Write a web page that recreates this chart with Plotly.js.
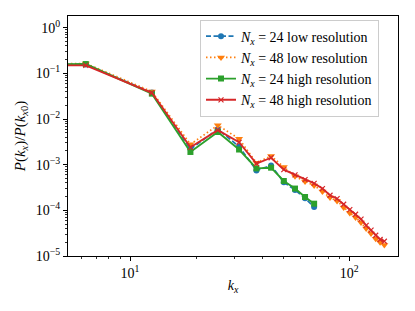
<!DOCTYPE html>
<html>
<head>
<meta charset="utf-8">
<script src="https://cdn.plot.ly/plotly-3.0.1.min.js"></script>
<style>
html,body{margin:0;padding:0;background:#fff;}
#chart{width:415px;height:311px;}
</style>
</head>
<body>
<div id="chart"></div>
<script>
// k_x values (first entry stands for the clipped k=0 mode, outside the visible range)
const k24 = [1, 6.28, 12.57, 18.85, 25.13, 31.42, 37.70, 43.98, 50.27, 56.55, 62.83, 69.12];
const k48 = [1, 6.28, 12.57, 18.85, 25.13, 31.42, 37.70, 43.98, 50.27, 56.55, 62.83, 69.12,
             75.40, 81.68, 87.96, 94.25, 100.53, 106.81, 113.10, 119.38, 125.66, 131.95, 138.23, 144.51];

const p24Low  = [0.155, 0.157, 0.038, 0.0022, 0.0060, 0.0025, 0.00075, 0.00096, 0.00041, 0.00028, 0.000185, 0.000118];
const p48Low  = [0.16, 0.165, 0.040, 0.0028, 0.0073, 0.0037, 0.0011, 0.00155, 0.00089, 0.00056, 0.00043, 0.00035,
                 0.00026, 0.00019, 0.00016, 0.000115, 0.000088, 0.000070, 0.000054, 0.000040, 0.000031, 0.000024, 0.000020, 0.0000175];
const p24High = [0.158, 0.160, 0.036, 0.0019, 0.0052, 0.00215, 0.00083, 0.00086, 0.00044, 0.00030, 0.000196, 0.00014];
const p48High = [0.148, 0.150, 0.0376, 0.0024, 0.0057, 0.0031, 0.00106, 0.00142, 0.00078, 0.00060, 0.00047, 0.00039,
                 0.00030, 0.000214, 0.00018, 0.000136, 0.000104, 0.000082, 0.000064, 0.000047, 0.000037, 0.0000285, 0.000023, 0.000021];

const names = [
  '<i>N</i><sub><i>x</i></sub> = 24 low resolution',
  '<i>N</i><sub><i>x</i></sub> = 48 low resolution',
  '<i>N</i><sub><i>x</i></sub> = 24 high resolution',
  '<i>N</i><sub><i>x</i></sub> = 48 high resolution'
];

const yTickVals = [1e-5, 1e-4, 1e-3, 1e-2, 1e-1, 1];
const yTickText = ['10<sup>−5</sup>', '10<sup>−4</sup>', '10<sup>−3</sup>', '10<sup>−2</sup>', '10<sup>−1</sup>', '10<sup>0</sup>'];
const xTickVals = [10, 100];
const xTickText = ['10<sup>1</sup>', '10<sup>2</sup>'];

function minorLog(lo, hi) {
  const out = [];
  for (let e = lo; e <= hi; e++) {
    for (let m = 2; m <= 9; m++) out.push(m * Math.pow(10, e));
  }
  return out;
}

const traces = [
  {x: k24, y: p24Low, name: names[0], mode: 'lines+markers',
   line: {color: '#1f77b4', width: 1.7, dash: '5px,2.5px'},
   marker: {symbol: 'circle', size: 6, color: '#1f77b4'}},
  {x: k48, y: p48Low, name: names[1], mode: 'lines+markers',
   line: {color: '#ff7f0e', width: 1.7, dash: '1.5px,2.5px'},
   marker: {symbol: 'triangle-down', size: 7, color: '#ff7f0e'}},
  {x: k24, y: p24High, name: names[2], mode: 'lines+markers',
   line: {color: '#2ca02c', width: 1.9},
   marker: {symbol: 'square', size: 6, color: '#2ca02c'}},
  {x: k48, y: p48High, name: names[3], mode: 'lines+markers',
   line: {color: '#d62728', width: 1.9},
   marker: {symbol: 'x-thin', size: 5, line: {color: '#d62728', width: 1.2}, color: '#d62728'}}
];

const FAM = 'Liberation Serif';
const font = {family: FAM, color: '#000', size: 14};

const layout = {
  width: 415, height: 311,
  margin: {l: 68, r: 17, t: 16, b: 55, pad: 0},
  paper_bgcolor: '#fff', plot_bgcolor: '#fff',
  font: font,
  showlegend: true,
  legend: {
    x: 0.4, y: 0.985, xanchor: 'left', yanchor: 'top',
    bgcolor: 'rgba(255,255,255,0.85)', bordercolor: '#cccccc', borderwidth: 1,
    font: {family: FAM, size: 14, color: '#000'},
    tracegroupgap: 0, itemwidth: 30
  },
  xaxis: {
    type: 'log', range: [Math.log10(5.21), Math.log10(166.8)],
    showgrid: false, zeroline: false,
    showline: true, linecolor: '#000', linewidth: 1, mirror: true,
    ticks: 'outside', ticklen: 4, tickwidth: 1, tickcolor: '#000',
    tickmode: 'array', tickvals: xTickVals, ticktext: xTickText,
    tickfont: {family: FAM, size: 14, color: '#000'},
    minor: {tickmode: 'array', tickvals: minorLog(0, 2), ticks: 'outside', ticklen: 2, tickwidth: 0.8, tickcolor: '#000', showgrid: false},
    title: {text: '<i>k</i><sub><i>x</i></sub>', font: {family: FAM, size: 14, color: '#000'}, standoff: 0}
  },
  yaxis: {
    type: 'log', range: [-5, 0.257],
    showgrid: false, zeroline: false,
    showline: true, linecolor: '#000', linewidth: 1, mirror: true,
    ticks: 'outside', ticklen: 4, tickwidth: 1, tickcolor: '#000',
    tickmode: 'array', tickvals: yTickVals, ticktext: yTickText,
    tickfont: {family: FAM, size: 14, color: '#000'},
    minor: {tickmode: 'array', tickvals: minorLog(-5, 0), ticks: 'outside', ticklen: 2, tickwidth: 0.8, tickcolor: '#000', showgrid: false},
    title: {text: '<i>P</i>(<i>k</i><sub><i>x</i></sub>)/<i>P</i>(<i>k</i><sub><i>x</i>0</sub>)', font: {family: FAM, size: 15, color: '#000'}, standoff: 6}
  }
};

Plotly.newPlot('chart', traces, layout, {staticPlot: true, displayModeBar: false});
</script>
</body>
</html>
